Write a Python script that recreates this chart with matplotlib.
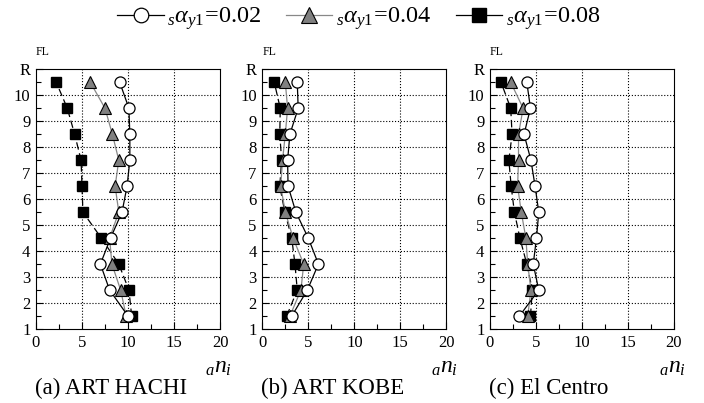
import matplotlib
matplotlib.use("Agg")
import matplotlib.pyplot as plt
from matplotlib.lines import Line2D
from matplotlib.ticker import MultipleLocator, FixedLocator

plt.rcParams['font.family'] = 'serif'
plt.rcParams['font.serif'] = ['Liberation Serif', 'DejaVu Serif']
plt.rcParams['mathtext.fontset'] = 'custom'
plt.rcParams['mathtext.rm'] = 'Liberation Serif'
plt.rcParams['mathtext.it'] = 'Liberation Serif:italic'

floors = [1.5, 2.5, 3.5, 4.5, 5.5, 6.5, 7.5, 8.5, 9.5, 10.5]
ytick_vals = [1, 2, 3, 4, 5, 6, 7, 8, 9, 10, 11]
ytick_labels = ['1', '2', '3', '4', '5', '6', '7', '8', '9', '10', 'R']
captions = ['(a) ART HACHI', '(b) ART KOBE', '(c) El Centro']
legend_labels = [r'$_{s}\alpha_{y1}\!=\!0.02$', r'$_{s}\alpha_{y1}\!=\!0.04$', r'$_{s}\alpha_{y1}\!=\!0.08$']

# values listed from floor 1.5 (bottom) to 10.5 (top)
hachi_002 = [10.0, 8.0, 7.0, 8.1, 9.35, 9.9, 10.2, 10.2, 10.1, 9.1]
hachi_004 = [9.8, 9.2, 8.25, 8.0, 9.0, 8.6, 9.0, 8.3, 7.5, 5.9]
hachi_008 = [10.4, 10.1, 9.0, 7.1, 5.1, 5.0, 4.9, 4.2, 3.4, 2.2]

kobe_002 = [3.2, 4.9, 6.1, 5.0, 3.65, 2.8, 2.75, 3.0, 3.9, 3.8]
kobe_004 = [3.0, 4.2, 4.5, 3.35, 2.5, 2.0, 2.2, 2.5, 2.75, 2.5]
kobe_008 = [2.65, 3.8, 3.55, 3.2, 2.45, 1.9, 2.1, 1.9, 1.95, 1.3]

elc_002 = [3.2, 5.3, 4.7, 5.05, 5.3, 4.9, 4.45, 3.7, 4.4, 4.0]
elc_004 = [4.1, 4.45, 4.1, 3.9, 3.4, 3.0, 3.1, 3.1, 3.6, 2.25]
elc_008 = [4.4, 4.6, 4.0, 3.25, 2.65, 2.3, 2.05, 2.4, 2.25, 1.2]

panels = [
    (hachi_002, hachi_004, hachi_008),
    (kobe_002, kobe_004, kobe_008),
    (elc_002, elc_004, elc_008),
]

fig = plt.figure(figsize=(7.04, 4.03), dpi=100)
lefts = [36 / 704, 262.3 / 704, 490 / 704]
w = 184 / 704
bottom = 1 - 329 / 403
h = (329 - 69.3) / 403

for i, (v02, v04, v08) in enumerate(panels):
    ax = fig.add_axes([lefts[i], bottom, w, h])
    ax.set_xlim(0, 20)
    ax.set_ylim(1, 11)
    for x in [5, 10, 15]:
        ax.axvline(x, color='black', linestyle=':', linewidth=0.8, zorder=0)
    for y in range(2, 11):
        ax.axhline(y, color='black', linestyle=':', linewidth=0.8, zorder=0)
    ax.plot(v08, floors, color='black', linestyle=(0, (6, 3)), linewidth=0.9,
            marker='s', markersize=7.3, markerfacecolor='black', markeredgecolor='black', zorder=3)
    ax.plot(v04, floors, color='#888888', linestyle='-', linewidth=0.9,
            marker='^', markersize=8.8, markerfacecolor='#808080', markeredgecolor='black',
            markeredgewidth=0.8, zorder=4)
    ax.plot(v02, floors, color='black', linestyle='-', linewidth=0.9,
            marker='o', markersize=8, markerfacecolor='white', markeredgecolor='black',
            markeredgewidth=0.9, zorder=5)
    ax.xaxis.set_major_locator(MultipleLocator(5))
    ax.xaxis.set_minor_locator(MultipleLocator(2.5))
    ax.yaxis.set_major_locator(FixedLocator(ytick_vals))
    ax.set_yticklabels(ytick_labels)
    ax.yaxis.set_minor_locator(MultipleLocator(0.5))
    ax.tick_params(which='both', direction='in', top=False, right=False, labelsize=12, pad=4)
    ax.tick_params(which='major', length=5, width=0.8)
    ax.tick_params(which='minor', length=3.5, width=0.8)
    for s in ax.spines.values():
        s.set_linewidth(0.8)
    ax.text(0.0, 1.045, 'FL', transform=ax.transAxes, fontsize=8.5, ha='left', va='bottom')
    fig.text(lefts[i] - 0.002, 1 - 394 / 403, captions[i], fontsize=16.5, ha='left', va='baseline')
    fig.text(lefts[i] + w - 2 / 704, 1 - 368 / 403, r'$_{a}n_{i}$', fontsize=17, ha='center', va='center')

handles = [
    Line2D([], [], color='black', linewidth=0.9, marker='o', markersize=10.5,
           markerfacecolor='white', markeredgecolor='black', markeredgewidth=0.9),
    Line2D([], [], color='#888888', linewidth=0.9, marker='^', markersize=11,
           markerfacecolor='#808080', markeredgecolor='black', markeredgewidth=0.8),
    Line2D([], [], color='black', linewidth=0.9, marker='s', markersize=10,
           markerfacecolor='black', markeredgecolor='black'),
]
fig.legend(handles, legend_labels, loc='center', bbox_to_anchor=(0.51, 1 - 19 / 403), ncol=3,
           frameon=False, fontsize=17.5, handlelength=1.9, columnspacing=1.0, handletextpad=0.15,
           borderpad=0.0)

fig.savefig('out.png', dpi=100)
